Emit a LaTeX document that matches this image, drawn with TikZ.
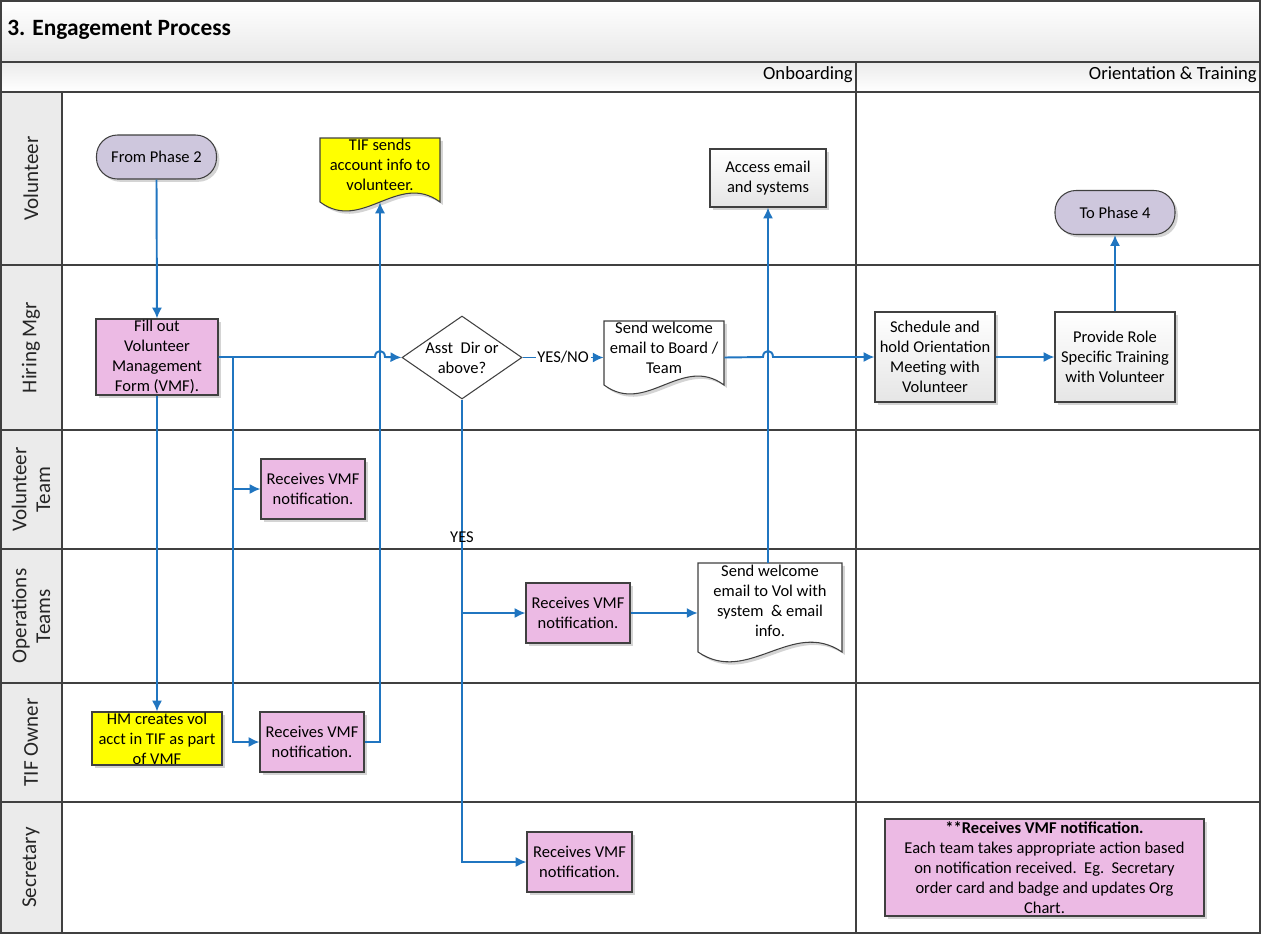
\documentclass[tikz,border=0pt]{standalone}
\usepackage{fontspec}
\setmainfont{Carlito}
\usetikzlibrary{shapes.geometric,arrows.meta,shadows,calc}
\definecolor{flowblue}{RGB}{32,117,192}
\definecolor{edgec}{RGB}{64,64,64}
\definecolor{pinkf}{RGB}{236,186,228}
\definecolor{lav}{RGB}{206,199,221}
\definecolor{yel}{RGB}{255,255,0}
\def\u{0.02cm}
\tikzset{
  nf/.style={font=\fontsize{9.4}{11.3}\selectfont},
  shad/.style={drop shadow={shadow xshift=1.6pt, shadow yshift=-1.6pt, opacity=0.17, fill=black}},
  basebox/.style={nf, align=center, inner sep=0pt, draw=edgec, line width=0.6pt, shad},
  pinkbox/.style={basebox, rectangle, fill=pinkf, minimum width=104*\u, minimum height=60*\u},
  yelbox/.style={basebox, rectangle, fill=yel},
  graybox/.style={basebox, rectangle, top color=white, bottom color=black!10, minimum width=120*\u, minimum height=90*\u},
  term/.style={basebox, rectangle, rounded corners=21*\u, fill=lav, minimum width=120*\u, minimum height=44*\u},
  decision/.style={diamond, draw=edgec, line width=0.6pt, fill=white, inner sep=0pt, minimum width=120*\u, minimum height=83*\u},
  doctext/.style={nf, align=center, inner sep=0pt},
  docshape/.style={draw=edgec, line width=0.6pt, shad},
  flow/.style={draw=flowblue, line width=1.1pt, -{Latex[length=6.2pt,width=5.8pt]}},
  lanelab/.style={font=\fontsize{12}{13.5}\selectfont, align=center, rotate=90, text=black!85},
  frame/.style={draw=edgec, line width=0.7pt},
  lbl/.style={nf, inner sep=1pt}
}
\begin{document}
\begin{tikzpicture}[x=0.02cm, y=-0.02cm]
\useasboundingbox (0,0) rectangle (1261,934);
% bands
\shade[top color=white, bottom color=black!9] (1,1) rectangle (1260,62);
\shade[top color=black!8, bottom color=white] (1,62) rectangle (1260,92);
\fill[black!8] (1,92) rectangle (62,933);
% grid
\draw[frame] (1,1) rectangle (1260,933);
\draw[frame] (1,62) -- (1260,62);
\draw[frame] (1,92) -- (1260,92);
\draw[frame] (62,92) -- (62,933);
\draw[frame] (856,62) -- (856,933);
\foreach \yy in {265,430,549,683,802} \draw[frame] (1,\yy) -- (1260,\yy);
% titles
\node[anchor=west, font=\fontsize{13.3}{15}\selectfont\bfseries, inner sep=0pt] (title) at (7,30) {3. Engagement Process};
\node[anchor=east, font=\fontsize{10.6}{12}\selectfont, inner sep=0pt] (onb) at (853,75) {Onboarding};
\node[anchor=east, font=\fontsize{10.6}{12}\selectfont, inner sep=0pt] (ort) at (1257,75) {Orientation \& Training};
% lane labels
\node[lanelab] (l1) at (31,178.5) {Volunteer};
\node[lanelab] (l2) at (31,347.5) {Hiring Mgr};
\node[lanelab] (l3) at (31,489.5) {Volunteer\\Team};
\node[lanelab] (l4) at (31,616) {Operations\\Teams};
\node[lanelab] (l5) at (31,742.5) {TIF Owner};
\node[lanelab] (l6) at (31,867.5) {Secretary};
% document shapes
\path[docshape, fill=yel] (320,138) -- (440,138) -- (440,202) .. controls (398,171) and (362,233) .. (320,202) -- cycle;
\path[docshape, fill=white] (604,321) -- (724,321) -- (724,385) .. controls (682,354) and (646,416) .. (604,385) -- cycle;
\path[docshape, fill=white] (698,563) -- (842,563) -- (842,652) .. controls (792,618) and (748,686) .. (698,652) -- cycle;
% nodes
\node[term] (ph2) at (156.5,157) {From Phase 2};
\node[term] (ph4) at (1115,212.5) {To Phase 4};
\node[pinkbox, minimum width=122*\u, minimum height=76*\u] (vmf) at (157,357) {Fill out\\Volunteer\\Management\\Form (VMF).};
\node[doctext, minimum width=120*\u, minimum height=74*\u] (tif) at (380,165) {TIF sends\\account info to\\volunteer.};
\node[decision, label={[nf, align=center]center:Asst\ \ Dir or\\above?}] (dia) at (462,357.5) {};
\node[doctext, minimum width=120*\u] (sendb) at (664,347.5) {Send welcome\\email to Board /\\Team};
\node[graybox, minimum width=116*\u, minimum height=58*\u] (acc) at (768,178) {Access email\\and systems};
\node[graybox] (sched) at (935,357) {Schedule and\\hold Orientation\\Meeting with\\Volunteer};
\node[graybox] (prov) at (1115,357) {Provide Role\\Specific Training\\with Volunteer};
\node[pinkbox] (vtr) at (313,489) {Receives VMF\\notification.};
\node[pinkbox] (ops) at (578,613) {Receives VMF\\notification.};
\node[doctext, minimum width=144*\u, minimum height=76*\u] (sendvol) at (770,601) {Send welcome\\email to Vol with\\system\ \ \& email\\info.};
\node[yelbox, minimum width=130*\u, minimum height=53*\u] (hm) at (157,738.5) {HM creates vol\\acct in TIF as part\\of VMF};
\node[pinkbox] (tifr) at (312,742) {Receives VMF\\notification.};
\node[pinkbox, minimum width=105*\u] (sec) at (579.5,862) {Receives VMF\\notification.};
\node[pinkbox, minimum width=319*\u, minimum height=97*\u] (note) at (1044.5,867.5) {\textbf{**Receives VMF notification.}\\Each team takes appropriate action based\\on notification received.\ \ Eg.\ \ Secretary\\order card and badge and updates Org\\Chart.};
% helper coordinates
\coordinate (b1) at (233,357);
\coordinate (hop1) at (380,357);
\coordinate (hop2) at (768,357);
% connectors
\draw[flow] (ph2.south) -- (vmf.north);
\draw[flow] (vmf.east) -- ([xshift=-5*\u]hop1) .. controls +(0,-8) and +(0,-8) .. ([xshift=5*\u]hop1) -- (dia.west);
\draw[flow] (b1) |- (vtr.west);
\draw[flow] (b1) |- (tifr.west);
\draw[flow] (vmf.south) -- (hm.north);
\draw[flow] (tifr.east) -| (tif.south);
\draw[flow] (dia.east) -- node[lbl, fill=white] (yn) {YES/NO} (dia.east -| sendb.west);
\draw[flow] (dia.south) |- (sec.west);
\draw[flow] (dia.south) |- (ops.west);
\draw[flow] (ops.east) -- (ops.east -| sendvol.west);
\draw[flow] (acc.south |- sendvol.north) -- (acc.south);
\draw[flow] (dia.east -| sendb.east) -- ([xshift=-5*\u]hop2) .. controls +(0,-8) and +(0,-8) .. ([xshift=5*\u]hop2) -- (sched.west);
\draw[flow] (sched.east) -- (prov.west);
\draw[flow] (prov.north) -- (ph4.south);
\node[lbl] (yes) at (462,537) {YES};
\end{tikzpicture}
\end{document}
